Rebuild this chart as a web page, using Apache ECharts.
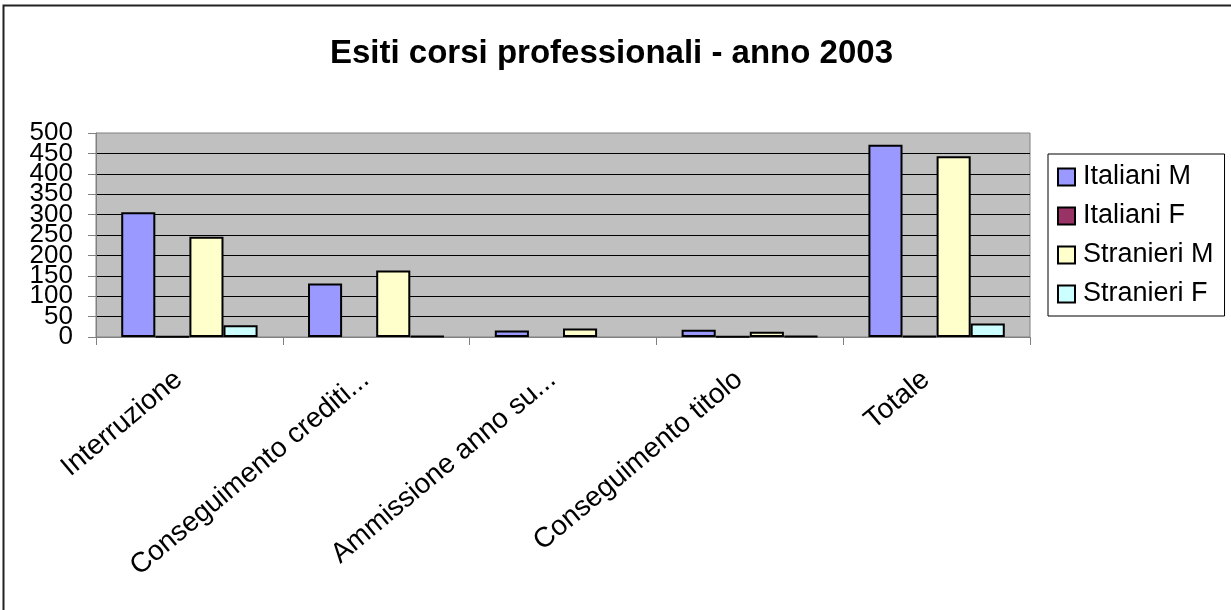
<!DOCTYPE html>
<html>
<head>
<meta charset="utf-8">
<script src="https://cdn.jsdelivr.net/npm/echarts@6/dist/echarts.min.js"></script>
<style>
  html, body { margin: 0; padding: 0; background: #fff; }
  #main { width: 1231px; height: 610px; }
</style>
</head>
<body>
<div id="main"></div>
<script>
var categories = ['Interruzione', 'Conseguimento crediti...', 'Ammissione anno su...', 'Conseguimento titolo', 'Totale'];
var italianiM = [306, 131, 16, 18, 471];
var italianiF = [1, null, null, 1, 2];
var stranieriM = [246, 163, 21, 13, 443];
var stranieriF = [29, 2, null, 2, 33];

var seriesNames = ['Italiani M', 'Italiani F', 'Stranieri M', 'Stranieri F'];
var seriesColors = ['#9999FF', '#993366', '#FFFFCC', '#CCFFFF'];
var seriesData = [italianiM, italianiF, stranieriM, stranieriF];

var font = 'Liberation Sans, Arial, sans-serif';

var chartDom = document.getElementById('main');
var myChart = echarts.init(chartDom);
var option;

// labels are packed tighter than their font size, so the even and odd
// hundreds go on two overlaid axes to keep echarts from hiding any
function yAxisFor(rest, withLines) {
  return {
    type: 'value',
    position: 'left',
    min: 0,
    max: 500,
    interval: 50,
    axisLine: { show: withLines, lineStyle: { color: '#808080', width: 1 } },
    axisTick: { show: withLines, length: 8, lineStyle: { color: '#808080' } },
    axisLabel: {
      margin: 23,
      showMinLabel: true,
      showMaxLabel: true,
      fontFamily: font,
      fontSize: 26,
      color: '#000',
      formatter: function (v) {
        return v % 100 === rest ? String(v) : '';
      }
    },
    splitLine: { show: withLines, showMaxLine: false, lineStyle: { color: '#000', width: 1 } }
  };
}

option = {
  animation: false,
  title: {
    text: 'Esiti corsi professionali - anno 2003',
    left: 325,
    top: 32,
    textStyle: { fontFamily: font, fontSize: 33, fontWeight: 'bold', color: '#000' }
  },
  graphic: [
    {
      type: 'rect',
      shape: { x: 3.5, y: 5.5, width: 1400, height: 800 },
      style: { fill: null, stroke: '#222', lineWidth: 2 },
      silent: true
    }
  ],
  legend: {
    orient: 'vertical',
    left: 1048,
    top: 154,
    padding: [8, 11, 7, 9],
    itemGap: 9,
    itemWidth: 17,
    itemHeight: 17,
    icon: 'rect',
    borderColor: '#000',
    borderWidth: 1,
    backgroundColor: '#fff',
    itemStyle: { borderColor: '#000', borderWidth: 2 },
    textStyle: { fontFamily: font, fontSize: 27, lineHeight: 30, color: '#000', padding: [0, 0, 0, 3] },
    data: seriesNames
  },
  grid: {
    left: 96,
    right: 201,
    top: 133,
    bottom: 273,
    show: true,
    backgroundColor: '#C0C0C0',
    borderColor: '#808080',
    borderWidth: 1
  },
  xAxis: {
    type: 'category',
    data: categories,
    axisLine: { lineStyle: { color: '#808080', width: 1 } },
    axisTick: { show: true, length: 8, lineStyle: { color: '#808080' } },
    axisLabel: {
      rotate: 40,
      margin: 30,
      interval: 0,
      padding: [0, 14, 0, 0],
      fontFamily: font,
      fontSize: 28,
      color: '#000'
    }
  },
  yAxis: [yAxisFor(0, true), yAxisFor(50, false)],
  series: seriesNames.map(function (name, i) {
    return {
      name: name,
      type: 'bar',
      yAxisIndex: 0,
      data: seriesData[i],
      barGap: '0%',
      barCategoryGap: '27%',
      itemStyle: { color: seriesColors[i], borderColor: '#000', borderWidth: 2 }
    };
  })
};

option && myChart.setOption(option);
</script>
</body>
</html>
